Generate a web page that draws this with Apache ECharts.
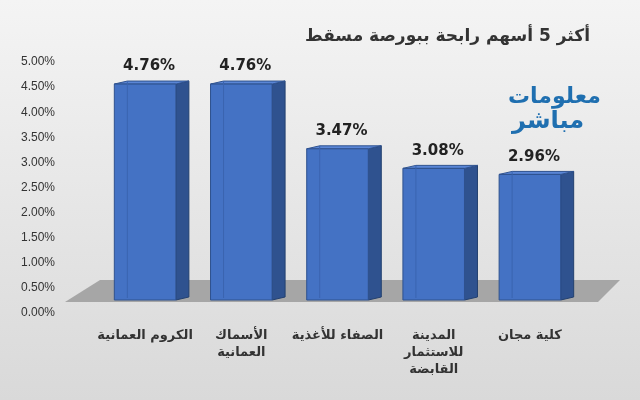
<!DOCTYPE html>
<html>
<head>
<meta charset="UTF-8">
<script src="https://cdn.jsdelivr.net/npm/echarts@6/dist/echarts.min.js"></script>
<style>
html,body{margin:0;padding:0;}
#main{width:640px;height:400px;background:linear-gradient(#f4f4f4,#d9d9d9);}
</style>
</head>
<body>
<div id="main"></div>
<script>
var categories = ['الكروم العمانية', 'الأسماك\nالعمانية', 'الصفاء للأغذية', 'المدينة\nللاستثمار\nالقابضة', 'كلية مجان'];
var values = [4.76, 4.76, 3.47, 3.08, 2.96];
var titleText = 'أكثر 5 أسهم رابحة ببورصة مسقط';

var chart = echarts.init(document.getElementById('main'));
var DX = 13, DY = -3;
function renderBar(params, api) {
  var i = api.value(0), v = api.value(1);
  var top = api.coord([i, v]), base = api.coord([i, 0]);
  var w = api.size([1, 0])[0] * 0.64;
  var x0 = top[0] - w / 2, x1 = top[0] + w / 2;
  var yt = top[1] + 10, yb = base[1] - 13;
  return {
    type: 'group',
    children: [
      {type: 'polygon', shape: {points: [[x1, yt], [x1 + DX, yt + DY], [x1 + DX, yb + DY], [x1, yb]]},
        style: {fill: '#2f528f', stroke: '#23406f', lineWidth: 1}},
      {type: 'polygon', shape: {points: [[x0, yt], [x0 + DX, yt + DY], [x1 + DX, yt + DY], [x1, yt]]},
        style: {fill: '#5a86d6', stroke: '#2f528f', lineWidth: 1}},
      {type: 'rect', shape: {x: x0, y: yt, width: w, height: yb - yt},
        style: {fill: '#4472c4', stroke: '#2f528f', lineWidth: 1}},
      {type: 'line', shape: {x1: x0 + DX, y1: yt + DY, x2: x0 + DX, y2: yb - 2},
        style: {stroke: '#3a64b0', lineWidth: 1}},
      {type: 'text', style: {text: v.toFixed(2) + '%', x: top[0] + 4, y: yt - 10,
        align: 'center', verticalAlign: 'bottom', fill: '#222', font: 'bold 15px "DejaVu Sans"'}}
    ]
  };
}
var option = {
  graphic: [
    {type: 'polygon', z: 0, shape: {points: [[100, 280], [620, 280], [598, 302], [65, 302]]},
      style: {fill: '#a6a6a6'}},
    {type: 'text', right: 50, top: 28, style: {text: titleText, fill: '#333', font: 'bold 17px "DejaVu Sans"'}},
    {type: 'text', left: 508, top: 86, style: {text: 'معلومات', fill: '#1f6fb0', font: 'bold 22px "DejaVu Sans"'}},
    {type: 'text', left: 512, top: 110, style: {text: 'مباشر', fill: '#1f6fb0', font: 'bold 24px "DejaVu Sans"'}}
  ],
  grid: {left: 97, right: 62, top: 62, bottom: 87},
  xAxis: {
    type: 'category', data: categories,
    axisLine: {show: false}, axisTick: {show: false},
    axisLabel: {interval: 0, margin: 14, color: '#333', fontSize: 13, fontWeight: 'bold', lineHeight: 17, fontFamily: 'DejaVu Sans'}
  },
  yAxis: {
    type: 'value', min: 0, max: 5, interval: 0.5,
    splitLine: {show: false},
    axisLabel: {margin: 42, color: '#333', fontSize: 12, formatter: function (v) { return v.toFixed(2) + '%'; }}
  },
  series: [{
    type: 'custom', renderItem: renderBar, z: 5,
    data: values.map(function (v, i) { return [i, v]; })
  }]
};
chart.setOption(option);
</script>
</body>
</html>
